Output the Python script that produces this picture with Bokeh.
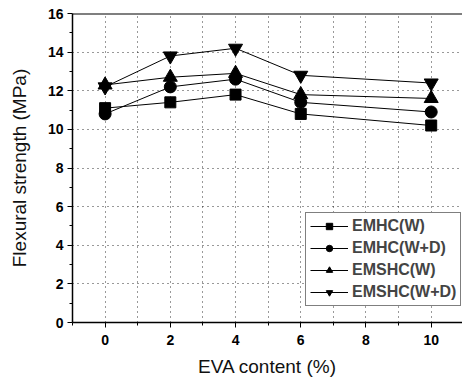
from bokeh.plotting import figure
from bokeh.models import FixedTicker, Range1d, Legend, Span
from bokeh.embed import file_html
from bokeh.resources import INLINE

eva = [0, 2, 4, 6, 10]
emhc_w = [11.1, 11.4, 11.8, 10.8, 10.2]
emhc_wd = [10.8, 12.2, 12.6, 11.4, 10.9]
emshc_w = [12.3, 12.7, 12.9, 11.8, 11.6]
emshc_wd = [12.2, 13.8, 14.2, 12.8, 12.4]
labels = ["EMHC(W)", "EMHC(W+D)", "EMSHC(W)", "EMSHC(W+D)"]
markers = ["square", "circle", "triangle", "inverted_triangle"]
x_ticks = [0, 2, 4, 6, 8, 10]
y_ticks = [0, 2, 4, 6, 8, 10, 12, 14, 16]

p = figure(width=462, height=379, output_backend="svg", toolbar_location=None,
           x_range=Range1d(-1, 10.96), y_range=Range1d(0, 16),
           min_border_left=72, min_border_right=0, min_border_top=13, min_border_bottom=56)

p.outline_line_color = None
p.add_layout(Span(location=16, dimension="width", line_color="black", line_width=2))

sizes = {"square": 11, "circle": 12, "triangle": 14, "inverted_triangle": 14}
legend_items = []
for ys, lab, mk in zip([emhc_w, emhc_wd, emshc_w, emshc_wd], labels, markers):
    l = p.line(eva, ys, line_color="black", line_width=1)
    s = p.scatter(eva, ys, marker=mk, size=sizes[mk],
                  fill_color="black", line_color="black")
    legend_items.append((lab, [l, s]))

legend = Legend(items=legend_items, location=(233, 16))
legend.border_line_color = "black"
legend.border_line_width = 1.2
legend.background_fill_alpha = 1
legend.label_text_font = "Liberation Sans"
legend.label_text_font_style = "bold"
legend.label_text_font_size = "16px"
legend.glyph_width = 38
legend.glyph_height = 16
legend.label_height = 16
legend.spacing = 4
legend.padding = 4
legend.margin = 0
legend.label_standoff = 4
p.add_layout(legend, "center")

for ax in (p.xaxis[0], p.yaxis[0]):
    ax.axis_line_color = "black"
    ax.axis_line_width = 1.5
    ax.major_tick_line_color = "black"
    ax.minor_tick_line_color = "black"
    ax.major_tick_out = 5
    ax.major_tick_in = 0
    ax.minor_tick_out = 3
    ax.minor_tick_in = 0
    ax.major_label_text_font = "Liberation Sans"
    ax.major_label_text_font_style = "bold"
    ax.major_label_text_font_size = "14px"
    ax.major_label_text_color = "black"
    ax.axis_label_text_font = "Liberation Sans"
    ax.axis_label_text_font_style = "normal"
    ax.axis_label_text_font_size = "19px"
    ax.axis_label_text_color = "#111111"

p.xaxis.ticker = FixedTicker(ticks=x_ticks, minor_ticks=[-1, 1, 3, 5, 7, 9])
p.yaxis.ticker = FixedTicker(ticks=y_ticks, minor_ticks=[1, 3, 5, 7, 9, 11, 13, 15])
p.xaxis.axis_label = "EVA content (%)"
p.yaxis.axis_label = "Flexural strength (MPa)"
p.xaxis.axis_label_standoff = 8
p.yaxis.axis_label_standoff = 15
p.xaxis.major_label_standoff = 7
p.yaxis.major_label_standoff = 4

p.xgrid.ticker = FixedTicker(ticks=list(range(0, 11)))
p.ygrid.ticker = FixedTicker(ticks=[2, 4, 6, 8, 10, 12, 14])
for g in (p.xgrid[0], p.ygrid[0]):
    g.grid_line_color = "black"
    g.grid_line_dash = "1 4"
    g.grid_line_width = 1
    g.grid_line_alpha = 0.8

open("out.html", "w").write(file_html(p, INLINE))
